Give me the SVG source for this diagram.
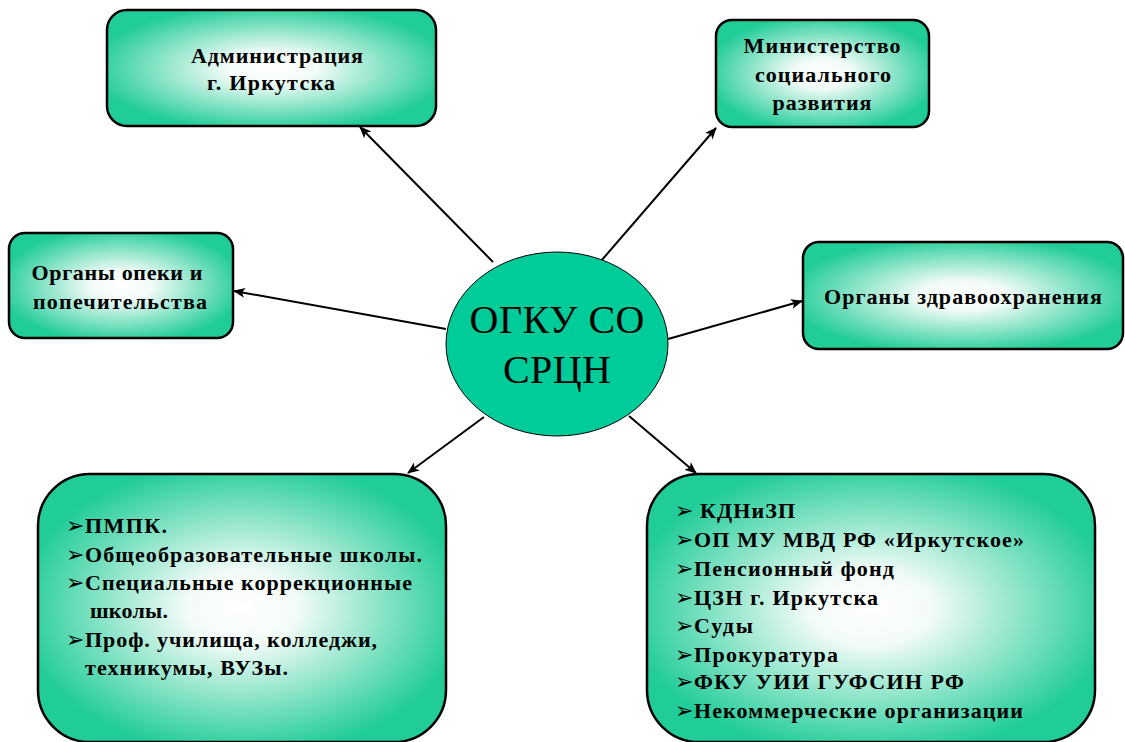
<svg xmlns="http://www.w3.org/2000/svg" width="1125" height="742" viewBox="0 0 1125 742">
<style>
.box{stroke:#000;stroke-width:2.5;fill:url(#g)}
.t{font-family:"Liberation Serif","DejaVu Serif","Noto Serif",serif;font-weight:bold;font-size:22px;fill:#000}
.c{text-anchor:middle}
.b{font-family:"DejaVu Sans",sans-serif;font-weight:normal;font-size:22px}
.big{font-family:"Liberation Serif","DejaVu Serif","Noto Serif",serif;font-size:40px;text-anchor:middle;fill:#000}
.ln{stroke:#000;stroke-width:2;fill:none;marker-end:url(#ah)}
</style>
<defs>
<radialGradient id="g" cx="0.5" cy="0.5" r="0.55">
<stop offset="0" stop-color="#ffffff"/>
<stop offset="0.25" stop-color="#f2fbf7"/>
<stop offset="1" stop-color="#20cc98"/>
</radialGradient>
<marker id="ah" viewBox="0 0 12 10" refX="11" refY="5" markerWidth="12" markerHeight="10" markerUnits="userSpaceOnUse" orient="auto">
<path d="M0,0 L12,5 L0,10 L3,5 z" fill="#000"/>
</marker>
</defs>
<rect width="1125" height="742" fill="#fff"/>
<g id="connectors">
<line class="ln" x1="493" y1="262" x2="360" y2="127"/>
<line class="ln" x1="601" y1="261" x2="716" y2="128"/>
<line class="ln" x1="446" y1="329" x2="234" y2="291"/>
<line class="ln" x1="668" y1="339" x2="802" y2="301"/>
<line class="ln" x1="484" y1="417" x2="408" y2="473"/>
<line class="ln" x1="629" y1="416" x2="696" y2="473"/>
</g>
<g id="admin">
<rect class="box" x="107" y="10" width="329" height="116" rx="20"/>
<text class="t c" x="277" y="63" textLength="172">Администрация</text>
<text class="t c" x="271" y="90" textLength="128">г. Иркутска</text>
</g>
<g id="ministry">
<rect class="box" x="716" y="20" width="213" height="107" rx="16"/>
<text class="t c" x="822" y="53" textLength="157">Министерство</text>
<text class="t c" x="823" y="82" textLength="136">социального</text>
<text class="t c" x="822" y="110" textLength="99">развития</text>
</g>
<g id="opeka">
<rect class="box" x="9" y="233" width="224" height="105" rx="16"/>
<text class="t c" x="117" y="280" textLength="171">Органы опеки и</text>
<text class="t c" x="120" y="309" textLength="174">попечительства</text>
</g>
<g id="health">
<rect class="box" x="803" y="242" width="320" height="107" rx="16"/>
<text class="t c" x="963" y="304" textLength="278">Органы здравоохранения</text>
</g>
<g id="center">
<ellipse cx="557" cy="344" rx="111" ry="92" fill="#00cc99" stroke="#000" stroke-width="1"/>
<text class="big" x="557" y="333" textLength="175">ОГКУ СО</text>
<text class="big" x="557" y="383" textLength="108">СРЦН</text>
</g>
<g id="education">
<rect class="box" x="38" y="474" width="408" height="268" rx="52"/>
<text class="t" y="533"><tspan class="b" x="66">➢</tspan><tspan x="85" textLength="82">ПМПК.</tspan></text>
<text class="t" y="562"><tspan class="b" x="66">➢</tspan><tspan x="85" textLength="337">Общеобразовательные школы.</tspan></text>
<text class="t" y="590"><tspan class="b" x="66">➢</tspan><tspan x="85" textLength="327">Специальные коррекционные</tspan></text>
<text class="t" y="618"><tspan x="90" textLength="78">школы.</tspan></text>
<text class="t" y="647"><tspan class="b" x="66">➢</tspan><tspan x="85" textLength="292">Проф. училища, колледжи,</tspan></text>
<text class="t" y="675"><tspan x="85" textLength="203">техникумы, ВУЗы.</tspan></text>
</g>
<g id="agencies">
<rect class="box" x="647" y="474" width="448" height="268" rx="52"/>
<text class="t" y="518"><tspan class="b" x="675">➢</tspan><tspan x="700" textLength="95">КДНиЗП</tspan></text>
<text class="t" y="547"><tspan class="b" x="675">➢</tspan><tspan x="694" textLength="330">ОП МУ МВД РФ «Иркутское»</tspan></text>
<text class="t" y="576"><tspan class="b" x="675">➢</tspan><tspan x="694" textLength="200">Пенсионный фонд</tspan></text>
<text class="t" y="605"><tspan class="b" x="675">➢</tspan><tspan x="694" textLength="184">ЦЗН г. Иркутска</tspan></text>
<text class="t" y="633"><tspan class="b" x="675">➢</tspan><tspan x="694" textLength="59">Суды</tspan></text>
<text class="t" y="662"><tspan class="b" x="675">➢</tspan><tspan x="694" textLength="144">Прокуратура</tspan></text>
<text class="t" y="689"><tspan class="b" x="675">➢</tspan><tspan x="694" textLength="270">ФКУ УИИ ГУФСИН РФ</tspan></text>
<text class="t" y="718"><tspan class="b" x="675">➢</tspan><tspan x="694" textLength="329">Некоммерческие организации</tspan></text>
</g>
</svg>
